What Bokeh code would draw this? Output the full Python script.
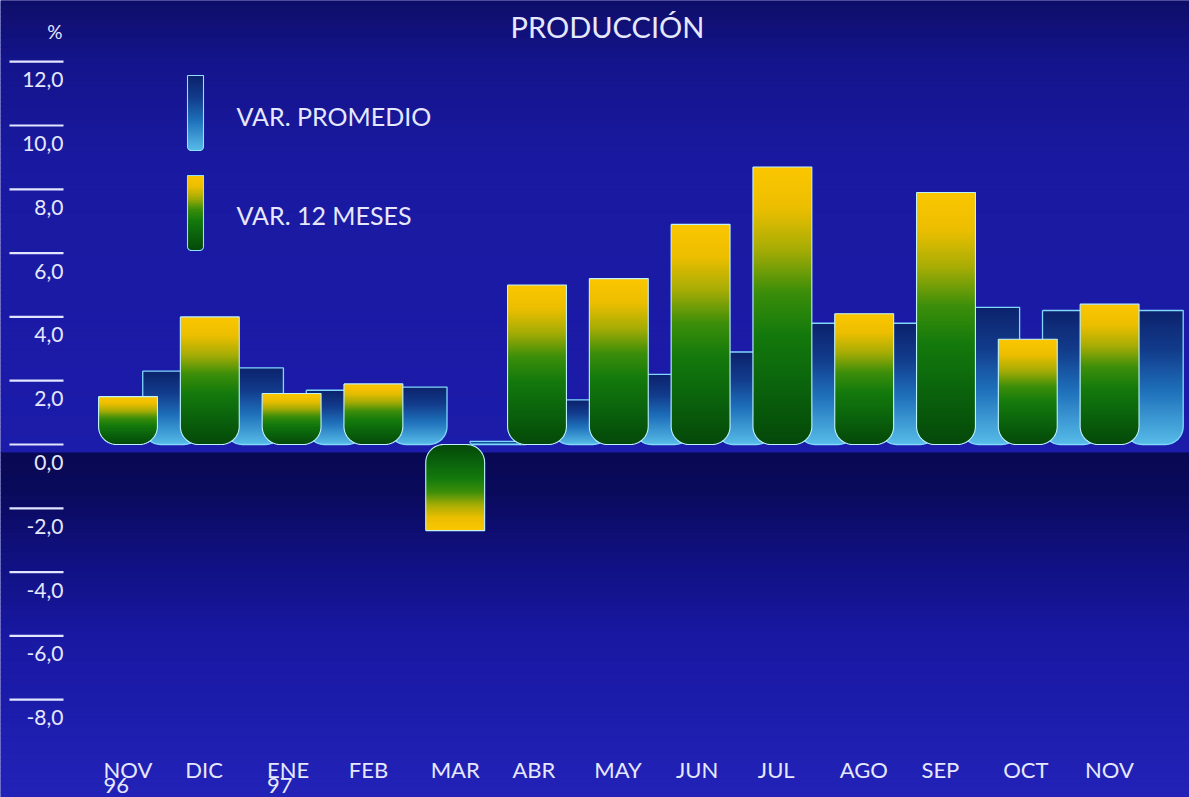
import numpy as np
from bokeh.plotting import figure
from bokeh.models import Range1d, Label, ColumnDataSource
from bokeh.embed import file_html
from bokeh.resources import INLINE
from bokeh.core.properties import value

# ---------------- data ----------------
months = ["NOV\n96", "DIC", "ENE\n97", "FEB", "MAR", "ABR", "MAY",
          "JUN", "JUL", "AGO", "SEP", "OCT", "NOV"]
var_12_meses = [1.5, 4.0, 1.6, 1.9, -2.7, 5.0, 5.2, 6.9, 8.7, 4.1, 7.9, 3.3, 4.4]
var_promedio = [2.3, 2.4, 1.7, 1.8, 0.1, 1.4, 2.2, 2.9, 3.8, 3.8, 4.3, 4.2, 4.2]
y_ticks = [12, 10, 8, 6, 4, 2, 0, -2, -4, -6, -8]
y_tick_labels = ["12,0", "10,0", "8,0", "6,0", "4,0", "2,0", "0,0",
                 "-2,0", "-4,0", "-6,0", "-8,0"]
title_text = "PRODUCCIÓN"
unit_text = "%"
legend_labels = ["VAR. PROMEDIO", "VAR. 12 MESES"]

# ---------------- layout / style ----------------
W, H = 1189, 797
X0, X1 = -1.5587, 12.977
Y0, Y1 = -11.066, 13.918
SX = W / (X1 - X0)
SY = H / (Y1 - Y0)


def sx_to_x(px):
    return X0 + px / SX


def sy_to_y(py):
    return Y1 - py / SY


FONT = "Lato"
TXT = "#e6e8ff"
BAR_HW = 0.36
BLUE_OFF = 0.54
R_PX = 18.0

GREEN_STOPS = [(0.0, (5, 72, 10)), (0.2, (10, 98, 12)), (0.4, (20, 122, 12)),
               (0.55, (60, 142, 10)), (0.7, (165, 172, 5)), (0.85, (235, 190, 0)),
               (1.0, (252, 198, 0))]
BLUE_STOPS = [(0.0, (88, 188, 232)), (0.4, (30, 112, 186)), (0.7, (18, 60, 140)),
              (1.0, (12, 34, 108))]
BG_STOPS = [(Y0, (34, 34, 184)), (-6.0, (24, 24, 162)), (-3.5, (16, 16, 128)),
            (-1.5, (10, 10, 92)), (-0.26, (8, 8, 82)), (-0.24, (28, 28, 170)),
            (2.0, (27, 27, 168)), (9.0, (25, 25, 160)), (12.0, (20, 20, 140)),
            (Y1, (14, 14, 105))]


def interp(stops, t):
    ts = [s[0] for s in stops]
    rgb = [int(round(np.interp(t, ts, [s[1][k] for s in stops]))) for k in range(3)]
    return "#%02x%02x%02x" % tuple(rgb)


def new_acc():
    return dict(left=[], right=[], bottom=[], top=[], color=[])


def gradient_bar(xc, hw, y_base, height, r_px, stops, acc, step=2.0):
    hpx = abs(height) * SY
    if hpx <= 0:
        return
    sgn = 1.0 if height >= 0 else -1.0
    hw_px = hw * SX
    r = min(r_px, hpx, hw_px)
    edges = np.unique(np.concatenate([np.arange(0, r, 1.0),
                                      np.arange(r, hpx, step), [hpx]]))
    for h0, h1 in zip(edges[:-1], edges[1:]):
        hm = 0.5 * (h0 + h1)
        inset = r - np.sqrt(max(r * r - (r - hm) ** 2, 0.0)) if hm < r else 0.0
        t = hm / hpx
        top = min(h1 + 0.8, hpx)
        ya = y_base + sgn * h0 / SY
        yb = y_base + sgn * top / SY
        acc["left"].append(xc - hw + inset / SX)
        acc["right"].append(xc + hw - inset / SX)
        acc["bottom"].append(min(ya, yb))
        acc["top"].append(max(ya, yb))
        acc["color"].append(interp(stops, t))


def outline_path(xc, hw, y_base, height, r_px):
    hpx = abs(height) * SY
    sgn = 1.0 if height >= 0 else -1.0
    hw_px = hw * SX
    r = min(r_px, hpx, hw_px)
    pts = [(-hw_px, hpx), (-hw_px, r)]
    for a in np.linspace(np.pi, 1.5 * np.pi, 14):
        pts.append((-hw_px + r + r * np.cos(a), r + r * np.sin(a)))
    for a in np.linspace(1.5 * np.pi, 2 * np.pi, 14):
        pts.append((hw_px - r + r * np.cos(a), r + r * np.sin(a)))
    pts += [(hw_px, hpx), (-hw_px, hpx)]
    xs = [xc + px / SX for px, _ in pts]
    ys = [y_base + sgn * h / SY for _, h in pts]
    return xs, ys


# ---------------- figure ----------------
p = figure(width=W, height=H, x_range=Range1d(X0, X1), y_range=Range1d(Y0, Y1),
           output_backend="svg", toolbar_location=None, min_border=0,
           x_axis_location=None, y_axis_location=None)
p.xgrid.visible = False
p.ygrid.visible = False
p.outline_line_color = None
p.background_fill_color = "#1b1ba8"
p.border_fill_color = "#1b1ba8"

# background bands
edges = np.unique(np.concatenate([np.linspace(Y0, Y1, 170), [-0.25]]))
bg = dict(bottom=[], top=[], color=[])
for a, b in zip(edges[:-1], edges[1:]):
    bg["bottom"].append(a)
    bg["top"].append(b + 0.02)
    bg["color"].append(interp(BG_STOPS, 0.5 * (a + b)))
p.quad(left=X0, right=X1, bottom="bottom", top="top", fill_color="color",
       line_color=None, source=ColumnDataSource(bg))

# y tick lines and labels
p.segment(x0=sx_to_x(9), x1=sx_to_x(63), y0=y_ticks, y1=y_ticks,
          line_color="#e2e5ff", line_width=2.2)
p.text(x=sx_to_x(63), y=[v - 18.0 / SY for v in y_ticks], text=y_tick_labels,
       text_align="right", text_baseline="middle", text_color=TXT,
       text_font=value(FONT), text_font_size="21px")

idx = list(range(len(months)))

# VAR. PROMEDIO bars (behind)
blue = new_acc()
blue_xs, blue_ys = [], []
for i, v in zip(idx, var_promedio):
    gradient_bar(i + BLUE_OFF, BAR_HW, 0.0, v, R_PX, BLUE_STOPS, blue)
    xs, ys = outline_path(i + BLUE_OFF, BAR_HW, 0.0, v, R_PX)
    blue_xs.append(xs)
    blue_ys.append(ys)
p.quad(left="left", right="right", bottom="bottom", top="top", fill_color="color",
       line_color=None, source=ColumnDataSource(blue))
p.multi_line(xs=blue_xs, ys=blue_ys, line_color="#80d8ff", line_width=1.3)

# VAR. 12 MESES bars (front)
green = new_acc()
green_xs, green_ys = [], []
for i, v in zip(idx, var_12_meses):
    gradient_bar(i, BAR_HW, 0.0, v, R_PX, GREEN_STOPS, green)
    xs, ys = outline_path(i, BAR_HW, 0.0, v, R_PX)
    green_xs.append(xs)
    green_ys.append(ys)
p.quad(left="left", right="right", bottom="bottom", top="top", fill_color="color",
       line_color=None, source=ColumnDataSource(green))
p.multi_line(xs=green_xs, ys=green_ys, line_color="#bff2ff", line_width=1.1)

# x labels (two lines)
line1 = [m.split("\n")[0] for m in months]
line2 = [m.split("\n")[1] if "\n" in m else "" for m in months]
p.text(x=[i - 0.3 for i in idx], y=sy_to_y(769), text=line1, text_align="left",
       text_baseline="middle", text_color=TXT, text_font=value(FONT),
       text_font_size="22px")
p.text(x=[i - 0.3 for i in idx], y=sy_to_y(785), text=line2, text_align="left",
       text_baseline="middle", text_color=TXT, text_font=value(FONT),
       text_font_size="22px")

# legend swatches
leg = new_acc()
leg_xs, leg_ys = [], []
sw_xc = sx_to_x(195)
sw_hw = 8.0 / SX
for (top_px, bot_px), stops in zip([(75, 150), (175, 250)], [BLUE_STOPS, GREEN_STOPS]):
    yb = sy_to_y(bot_px)
    hgt = (bot_px - top_px) / SY
    gradient_bar(sw_xc, sw_hw, yb, hgt, 4.0, stops, leg, step=1.5)
    xs, ys = outline_path(sw_xc, sw_hw, yb, hgt, 4.0)
    leg_xs.append(xs)
    leg_ys.append(ys)
p.quad(left="left", right="right", bottom="bottom", top="top", fill_color="color",
       line_color=None, source=ColumnDataSource(leg))
p.multi_line(xs=leg_xs, ys=leg_ys, line_color="#90e0ff", line_width=1.1)

for lab, mid_px in zip(legend_labels, [115, 214]):
    p.add_layout(Label(x=sx_to_x(236), y=sy_to_y(mid_px), text=lab,
                       text_align="left", text_baseline="middle",
                       text_color=TXT, text_font=FONT, text_font_size="25px"))

# title and unit
p.add_layout(Label(x=sx_to_x(607), y=sy_to_y(26), text=title_text,
                   text_align="center", text_baseline="middle",
                   text_color=TXT, text_font=FONT, text_font_size="29px"))
p.add_layout(Label(x=sx_to_x(62), y=sy_to_y(31), text=unit_text,
                   text_align="right", text_baseline="middle",
                   text_color=TXT, text_font=FONT, text_font_size="19px"))

open("out.html", "w").write(file_html(p, INLINE))
